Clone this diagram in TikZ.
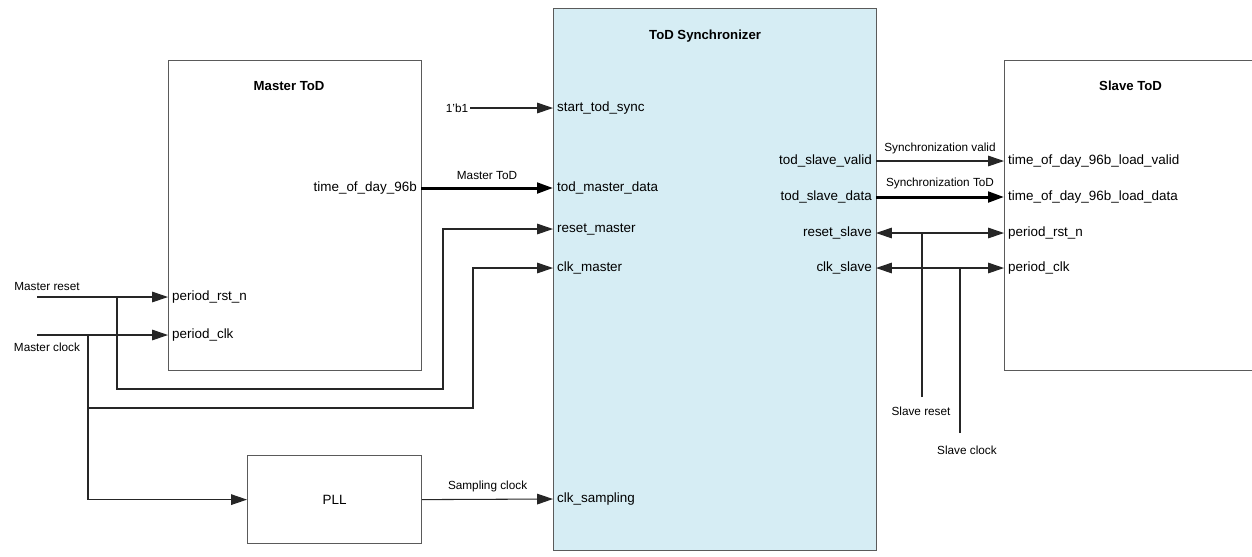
\documentclass[tikz,border=0pt]{standalone}
\usepackage{fontspec}
\setmainfont{Liberation Sans}
\usetikzlibrary{arrows.meta,positioning,calc}
\definecolor{syncfill}{RGB}{214,237,244}
\definecolor{boxline}{RGB}{90,90,90}

\begin{document}
\begin{tikzpicture}[x=0.02cm,y=-0.02cm,
    blk/.style={draw=boxline,line width=0.7pt,anchor=north west,inner sep=0pt},
    ttl/.style={font=\fontsize{7.5}{9}\selectfont\bfseries},
    port/.style={font=\fontsize{7.65}{9}\selectfont,inner xsep=2.2pt,inner ysep=1pt},
    lbl/.style={font=\fontsize{6.7}{8}\selectfont,inner sep=1pt},
    wire/.style={line width=0.6pt,draw=black!85},
    sig/.style={wire,-{Triangle[length=9pt,width=6pt]}},
    bus/.style={sig,line width=1.7pt,draw=black},
    dsig/.style={wire,{Triangle[length=9pt,width=6pt]}-{Triangle[length=9pt,width=6pt]}}]
  \useasboundingbox (0,0) rectangle (1252,556);
  % blocks
  \node[blk,minimum width=5.06cm,minimum height=6.2cm] (mtod) at (168,60) {};
  \node[blk,fill=syncfill,minimum width=6.46cm,minimum height=10.84cm] (sync) at (553,8) {};
  \node[blk,minimum width=5.04cm,minimum height=6.2cm] (stod) at (1004,60) {};
  \node[blk,font=\fontsize{7.65}{9}\selectfont,minimum width=3.48cm,minimum height=1.76cm] (pll) at (247,455) {PLL};
  \node[ttl] (mtodt) at ($(mtod.north)+(-6,26)$) {Master ToD};
  \node[ttl] (synct) at ($(sync.north)+(-10,28)$) {ToD Synchronizer};
  \node[ttl] (stodt) at ($(stod.north)+(0,26)$) {Slave ToD};
  % ports
  \foreach \n/\y/\t in {stsync/108/start\_tod\_sync,tmd/188/tod\_master\_data,rstm/229/reset\_master,
      clkm/268/clk\_master,csmp/499/clk\_sampling}
    \node[port,anchor=west] (\n) at (553,\y) {\t};
  \foreach \n/\y/\t in {tsv/161/tod\_slave\_valid,tsd/197/tod\_slave\_data,rsts/233/reset\_slave,clks/268/clk\_slave}
    \node[port,anchor=east] (\n) at (876,\y) {\t};
  \foreach \n/\y/\t in {ldv/161/time\_of\_day\_96b\_load\_valid,ldd/197/time\_of\_day\_96b\_load\_data,
      sprst/233/period\_rst\_n,spclk/268/period\_clk}
    \node[port,anchor=west] (\n) at (1004,\y) {\t};
  \node[port,anchor=west] (mprst) at (168,297) {period\_rst\_n};
  \node[port,anchor=west] (mpclk) at (168,335) {period\_clk};
  \node[port,anchor=east] (tod96) at (421,188) {time\_of\_day\_96b};
  % master side
  \node[lbl] (one) at (457,108) {1'b1};
  \draw[sig] (one.east) -- (stsync.west);
  \draw[bus] (tod96.east) -- (tmd.west) node[lbl,midway,above=3pt]{Master ToD};
  \node[lbl] (mrstl) at (47,286) {Master reset};
  \node[lbl] (mclkl) at (47,347) {Master clock};
  \coordinate (mrst) at (37,297);
  \coordinate (mclk) at (37,335);
  \coordinate (rbr) at (117,297);
  \coordinate (cbr) at (88,335);
  \draw[sig] (mrst) -- (mprst.west);
  \draw[sig] (mclk) -- (mpclk.west);
  \draw[sig] (rbr) |- (443,389) |- (rstm.west);
  \draw[sig] (cbr) |- (473,408) |- (clkm.west);
  \draw[sig] (cbr) |- (pll.west);
  \draw[sig] (pll.east) -- (csmp.west) node[lbl,midway,above=3pt]{Sampling clock};
  % slave side
  \draw[sig] (tsv.east) -- (ldv.west) node[lbl,midway,above=3pt]{Synchronization valid};
  \draw[bus] (tsd.east) -- (ldd.west) node[lbl,midway,above=3pt]{Synchronization ToD};
  \draw[dsig] (rsts.east) -- (sprst.west);
  \draw[dsig] (clks.east) -- (spclk.west);
  \coordinate (srst) at (922,397);
  \coordinate (sclk) at (960,433);
  \draw[wire] (srst) -- (srst |- rsts.east);
  \draw[wire] (sclk) -- (sclk |- clks.east);
  \node[lbl] (srstl) at (921,411) {Slave reset};
  \node[lbl] (sclkl) at (967,450) {Slave clock};
\end{tikzpicture}
\end{document}
